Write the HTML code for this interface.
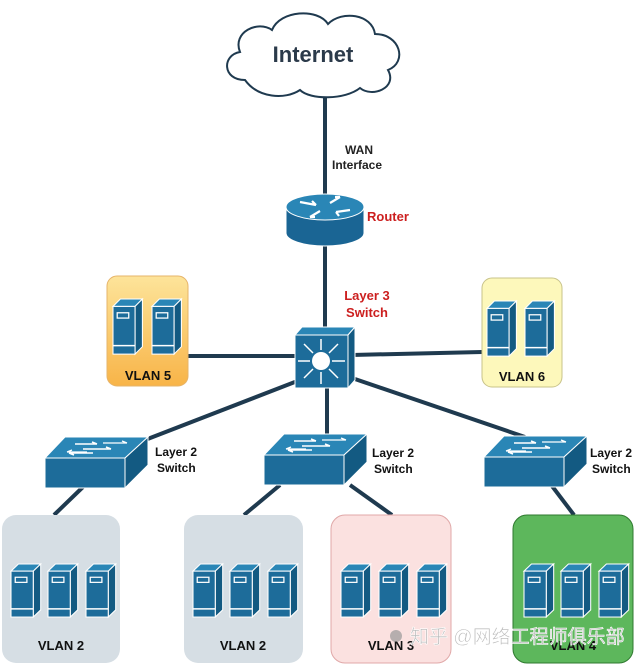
<!DOCTYPE html>
<html><head><meta charset="utf-8"><style>
html,body{margin:0;padding:0;background:#fff}
svg{display:block}
text{font-family:"Liberation Sans","Noto Sans CJK SC",sans-serif;font-weight:bold}
</style></head><body>
<svg width="644" height="666" viewBox="0 0 644 666" xmlns="http://www.w3.org/2000/svg">
<defs>
<linearGradient id="og" x1="0" y1="0" x2="0" y2="1"><stop offset="0" stop-color="#fde49a"/><stop offset="1" stop-color="#f8b448"/></linearGradient>
<g id="srv">
<polygon points="0,7 7,0 28,0 21,7" fill="#2a86b6" stroke="#fff" stroke-width="1"/>
<polygon points="21,7 28,0 28,45 21,52" fill="#135a82" stroke="#fff" stroke-width="1"/>
<rect x="0" y="7" width="21" height="45" fill="#1d6c9a" stroke="#fff" stroke-width="1"/>
<rect x="4" y="13" width="11" height="5" fill="none" stroke="#fff" stroke-width="1.2"/>
<line x1="0" y1="44" x2="21" y2="44" stroke="#fff" stroke-width="1.5"/>
</g>
<g id="sw">
<polygon points="20,0 103,0 80,21 0,21" fill="#2a86b6" stroke="#fff"/>
<rect x="0" y="21" width="80" height="30" fill="#1d6c9a" stroke="#fff"/>
<polygon points="80,21 103,0 103,28 80,51" fill="#135a82" stroke="#fff"/>
<path d="M30,7 h22 M52,7 l-5,-2 M38,12 h28 M66,12 l-5,-2 M24,16 h24 M24,16 l5,2" stroke="#fff" stroke-width="1.5" fill="none"/>
<path d="M58,6 h24 M82,6 l-5,-2 M22,15 h20 M22,15 l5,-2" stroke="#fff" stroke-width="1.3" fill="none"/>
</g>
</defs>

<g stroke="#1f3a4f" stroke-width="4" fill="none">
<line x1="325" y1="95" x2="325" y2="196"/>
<line x1="325" y1="246" x2="325" y2="330"/>
<line x1="188" y1="356" x2="296" y2="356"/>
<line x1="352" y1="355" x2="482" y2="352"/>
<line x1="300" y1="380" x2="145" y2="440"/>
<line x1="327" y1="388" x2="327" y2="436"/>
<line x1="352" y1="378" x2="525" y2="437"/>
<line x1="84" y1="486" x2="54" y2="515"/>
<line x1="280" y1="485" x2="244" y2="515"/>
<line x1="350" y1="485" x2="392" y2="515"/>
<line x1="552" y1="486" x2="574" y2="515"/>
</g>

<path d="M245,80 C222,80 222,55 240,52 C232,32 258,20 272,30 C280,10 318,8 328,24 C342,10 372,14 375,34 C400,34 408,62 388,70 C398,88 372,98 360,88 C345,100 310,100 300,90 C285,100 258,98 245,80 Z" fill="#fff" stroke="#1f3a4f" stroke-width="2"/>
<text x="313" y="62" font-size="22" fill="#2b3a4a" text-anchor="middle">Internet</text>

<text x="345" y="154" font-size="12" fill="#222">WAN</text>
<text x="332" y="169" font-size="12" fill="#222">Interface</text>

<path d="M286,207 v26 a39,13 0 0 0 78,0 v-26 z" fill="#1a6594" stroke="#fff"/>
<ellipse cx="325" cy="207" rx="39" ry="13" fill="#2a86b6" stroke="#fff"/>
<g stroke="#fff" stroke-width="2.2" fill="none">
<path d="M300,202 l16,3 M316,205 l-4,-4"/>
<path d="M336,212 l14,-2 M336,212 l3,4"/>
<path d="M330,203 l10,-6 M340,197 l-5,0"/>
<path d="M320,211 l-10,6 M310,217 l5,0"/>
</g>
<text x="367" y="221" font-size="13" fill="#cc1f1f">Router</text>

<text x="367" y="300" font-size="13" fill="#cc1f1f" text-anchor="middle">Layer 3</text>
<text x="367" y="317" font-size="13" fill="#cc1f1f" text-anchor="middle">Switch</text>

<polygon points="295,335 302,327 355,327 348,335" fill="#2a86b6" stroke="#fff"/>
<polygon points="348,335 355,327 355,380 348,388" fill="#135a82" stroke="#fff"/>
<rect x="295" y="335" width="53" height="53" fill="#1d6c9a" stroke="#fff"/>
<circle cx="321" cy="361" r="9" fill="#fff"/>
<g stroke="#fff" stroke-width="1.5">
<line x1="321" y1="350" x2="321" y2="339"/><line x1="321" y1="372" x2="321" y2="384"/>
<line x1="310" y1="361" x2="298" y2="361"/><line x1="332" y1="361" x2="345" y2="361"/>
<line x1="313" y1="353" x2="304" y2="344"/><line x1="329" y1="353" x2="338" y2="344"/>
<line x1="313" y1="369" x2="304" y2="378"/><line x1="329" y1="369" x2="338" y2="378"/>
</g>

<rect x="107" y="276" width="81" height="110" rx="10" fill="url(#og)" stroke="#e6b46a"/>
<use href="#srv" transform="translate(113,299) scale(1.05,1.06)"/>
<use href="#srv" transform="translate(152,299) scale(1.05,1.06)"/>
<text x="148" y="380" font-size="13" fill="#111" text-anchor="middle">VLAN 5</text>

<rect x="482" y="278" width="80" height="109" rx="10" fill="#fdf8bb" stroke="#c8c38a"/>
<use href="#srv" transform="translate(487,301) scale(1.05,1.06)"/>
<use href="#srv" transform="translate(525,301) scale(1.05,1.06)"/>
<text x="522" y="381" font-size="13" fill="#111" text-anchor="middle">VLAN 6</text>

<use href="#sw" transform="translate(45,437)"/>
<use href="#sw" transform="translate(264,434)"/>
<use href="#sw" transform="translate(484,436)"/>
<text x="155" y="456" font-size="12" fill="#111">Layer 2</text>
<text x="157" y="472" font-size="12" fill="#111">Switch</text>
<text x="372" y="457" font-size="12" fill="#111">Layer 2</text>
<text x="374" y="473" font-size="12" fill="#111">Switch</text>
<text x="590" y="457" font-size="12" fill="#111">Layer 2</text>
<text x="592" y="473" font-size="12" fill="#111">Switch</text>

<rect x="2" y="515" width="118" height="148" rx="14" fill="#d6dee4"/>
<rect x="184" y="515" width="119" height="148" rx="14" fill="#d6dee4"/>
<rect x="331" y="515" width="120" height="148" rx="14" fill="#fbe1e0" stroke="#e0a8a8"/>
<rect x="513" y="515" width="120" height="148" rx="14" fill="#5db75c" stroke="#2f7a2f"/>
<g transform="translate(0,564)">
<use href="#srv" transform="translate(11,0) scale(1.06,1.02)"/><use href="#srv" transform="translate(48,0) scale(1.06,1.02)"/><use href="#srv" transform="translate(86,0) scale(1.06,1.02)"/>
<use href="#srv" transform="translate(193,0) scale(1.06,1.02)"/><use href="#srv" transform="translate(230,0) scale(1.06,1.02)"/><use href="#srv" transform="translate(268,0) scale(1.06,1.02)"/>
<use href="#srv" transform="translate(341,0) scale(1.06,1.02)"/><use href="#srv" transform="translate(379,0) scale(1.06,1.02)"/><use href="#srv" transform="translate(417,0) scale(1.06,1.02)"/>
<use href="#srv" transform="translate(524,0) scale(1.06,1.02)"/><use href="#srv" transform="translate(561,0) scale(1.06,1.02)"/><use href="#srv" transform="translate(599,0) scale(1.06,1.02)"/>
</g>
<text x="61" y="650" font-size="13" fill="#111" text-anchor="middle">VLAN 2</text>
<text x="243" y="650" font-size="13" fill="#111" text-anchor="middle">VLAN 2</text>
<text x="391" y="650" font-size="13" fill="#111" text-anchor="middle">VLAN 3</text>
<text x="573" y="650" font-size="13" fill="#111" text-anchor="middle">VLAN 4</text>

<circle cx="396" cy="636" r="6" fill="#999" opacity="0.7"/>
<text x="410" y="643" font-size="19" fill="#bbb" stroke="#fff" stroke-width="0.6" style="font-weight:normal">知乎 @网络工程师俱乐部</text>
</svg>
</body></html>
